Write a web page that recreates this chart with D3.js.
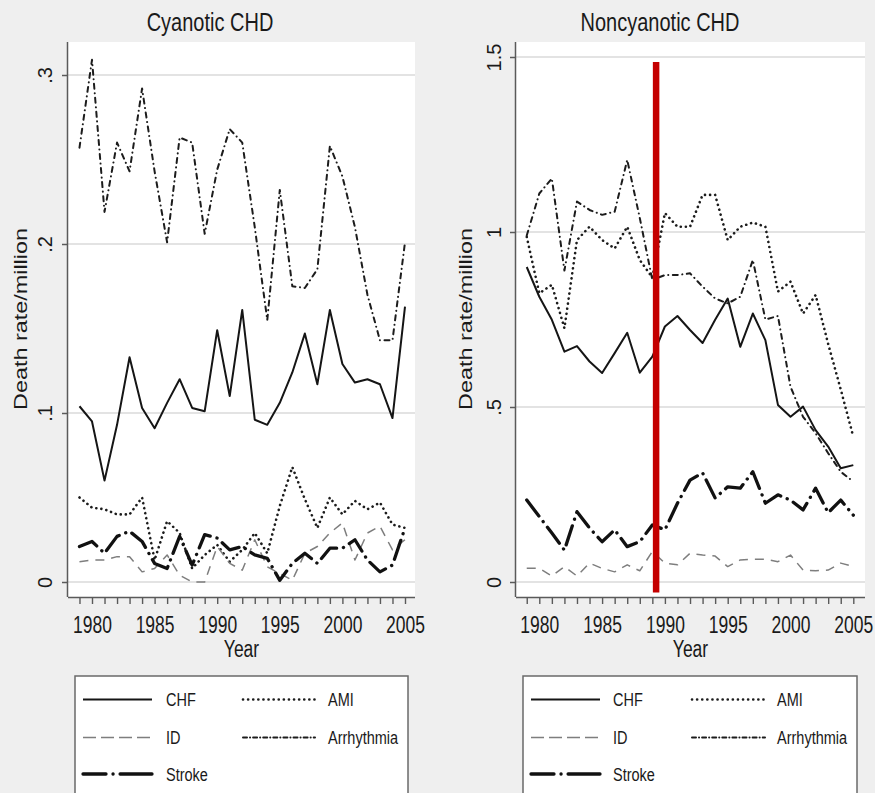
<!DOCTYPE html>
<html>
<head>
<meta charset="utf-8">
<script src="https://cdn.jsdelivr.net/npm/d3@7"></script>
<style>
  html, body { margin: 0; padding: 0; background: #efefef; }
  svg { display: block; }
  text { font-family: "Liberation Sans", Arial, sans-serif; fill: #1a1a1a; }
</style>
</head>
<body>
<svg id="chart" width="875" height="793"></svg>
<script>
// Years on the x axis
const years = [1979, 1980, 1981, 1982, 1983, 1984, 1985, 1986, 1987, 1988, 1989, 1990, 1991,
  1992, 1993, 1994, 1995, 1996, 1997, 1998, 1999, 2000, 2001, 2002, 2003, 2004, 2005];

// Cyanotic CHD death rates per million, by cause
const cyanCHF = [0.104, 0.095, 0.060, 0.093, 0.133, 0.103, 0.091, 0.106, 0.120, 0.103, 0.101, 0.149, 0.110,
  0.161, 0.096, 0.093, 0.106, 0.124, 0.147, 0.117, 0.161, 0.129, 0.118, 0.120, 0.117, 0.097, 0.163];
const cyanAMI = [0.050, 0.044, 0.043, 0.040, 0.040, 0.050, 0.013, 0.036, 0.029, 0.008, 0.016, 0.022, 0.012,
  0.019, 0.029, 0.017, 0.045, 0.068, 0.049, 0.032, 0.050, 0.040, 0.048, 0.043, 0.047, 0.034, 0.032];
const cyanID = [0.012, 0.013, 0.013, 0.015, 0.015, 0.006, 0.008, 0.016, 0.004, 0.000, 0.000, 0.021, 0.011,
  0.007, 0.025, 0.009, 0.005, 0.001, 0.017, 0.021, 0.029, 0.035, 0.013, 0.029, 0.033, 0.019, 0.025];
const cyanArrhythmia = [0.257, 0.309, 0.219, 0.260, 0.243, 0.292, 0.243, 0.201, 0.263, 0.260, 0.206, 0.244, 0.268,
  0.260, 0.210, 0.155, 0.232, 0.175, 0.174, 0.185, 0.258, 0.240, 0.210, 0.170, 0.143, 0.143, 0.201];
const cyanStroke = [0.021, 0.024, 0.017, 0.027, 0.030, 0.024, 0.011, 0.008, 0.027, 0.010, 0.028, 0.026, 0.019,
  0.021, 0.016, 0.014, 0.001, 0.011, 0.017, 0.011, 0.020, 0.020, 0.025, 0.013, 0.006, 0.010, 0.032];

// Noncyanotic CHD death rates per million, by cause
const nonCHF = [0.900, 0.815, 0.749, 0.658, 0.674, 0.630, 0.597, 0.654, 0.712, 0.598, 0.644, 0.730, 0.760,
  0.720, 0.683, 0.749, 0.810, 0.672, 0.767, 0.691, 0.506, 0.472, 0.501, 0.434, 0.387, 0.325, 0.334];
const nonAMI = [0.986, 0.825, 0.849, 0.725, 0.977, 1.015, 0.977, 0.953, 1.015, 0.920, 0.870, 1.054, 1.015,
  1.015, 1.106, 1.106, 0.977, 1.015, 1.027, 1.015, 0.830, 0.858, 0.767, 0.820, 0.680, 0.550, 0.415];
const nonID = [0.039, 0.039, 0.017, 0.044, 0.017, 0.054, 0.039, 0.029, 0.049, 0.032, 0.087, 0.054, 0.049,
  0.082, 0.077, 0.074, 0.044, 0.063, 0.065, 0.065, 0.058, 0.077, 0.034, 0.032, 0.034, 0.054, 0.044];
const nonArrhythmia = [0.990, 1.110, 1.153, 0.890, 1.087, 1.063, 1.049, 1.058, 1.206, 1.040, 0.863, 0.877, 0.877,
  0.882, 0.844, 0.810, 0.796, 0.815, 0.920, 0.750, 0.760, 0.558, 0.472, 0.425, 0.368, 0.315, 0.287];
const nonStroke = [0.234, 0.187, 0.140, 0.091, 0.201, 0.154, 0.115, 0.149, 0.101, 0.115, 0.163, 0.149, 0.225,
  0.291, 0.312, 0.240, 0.272, 0.268, 0.315, 0.225, 0.249, 0.234, 0.206, 0.268, 0.198, 0.234, 0.191];

// Axis labels
const xTickYears = [1980, 1985, 1990, 1995, 2000, 2005];
const cyanYTicks = [0, 0.1, 0.2, 0.3];
const cyanYLabels = ["0", ".1", ".2", ".3"];
const nonYTicks = [0, 0.5, 1, 1.5];
const nonYLabels = ["0", ".5", "1", "1.5"];

// Legend entries
const causes = ["CHF", "AMI", "ID", "Arrhythmia", "Stroke"];

// Marker year for the vertical reference line on the noncyanotic panel
const refYear = 1989.3;
const refSpan = [-0.03, 1.486];

// Line style per cause (dash = plot pattern, keyDash = legend sample pattern)
const styles = {
  CHF:        { color: "#151515", width: 2.0, dash: null, keyDash: null, cap: "butt" },
  AMI:        { color: "#1c1c1c", width: 2.6, dash: "0.1 5", keyDash: "0.1 5", cap: "round" },
  ID:         { color: "#7e7e7e", width: 1.5, dash: "9 7", keyDash: "13 5", cap: "butt" },
  Arrhythmia: { color: "#1c1c1c", width: 2.0, dash: "5 4.5 0.1 4.5", keyDash: "4 3 0.1 3", cap: "round" },
  Stroke:     { color: "#111111", width: 3.3, dash: "20 7 0.1 7", keyDash: "23 7 0.1 7 40", cap: "round" }
};

const svg = d3.select("#chart");

function drawPanel(cfg) {
  const g = svg.append("g");
  const x = d3.scaleLinear().domain([1980, 2005]).range(cfg.xRange);
  const y = d3.scaleLinear().domain([0, cfg.yTop]).range(cfg.yRange);

  // plot region
  g.append("rect")
    .attr("x", cfg.left).attr("y", cfg.top)
    .attr("width", cfg.right - cfg.left).attr("height", cfg.bottom - cfg.top)
    .attr("fill", "#ffffff");

  // horizontal grid
  g.selectAll("line.grid").data(cfg.yTicks).enter().append("line")
    .attr("class", "grid")
    .attr("x1", cfg.left).attr("x2", cfg.right)
    .attr("y1", d => y(d)).attr("y2", d => y(d))
    .attr("stroke", "#e3e3e3").attr("stroke-width", 2);

  // y axis
  const yAxis = d3.axisLeft(y).tickValues(cfg.yTicks).tickSize(6).tickPadding(0)
    .tickFormat((d, i) => cfg.yLabels[i]);
  const ya = g.append("g").attr("transform", `translate(${cfg.left},0)`).call(yAxis);
  ya.select(".domain").attr("d", `M-0.5,${cfg.top}V${cfg.bottom}`)
    .attr("stroke", "#5a5a5a").attr("stroke-width", 1.5);
  ya.selectAll(".tick line").attr("stroke", "#5a5a5a").attr("stroke-width", 1.5);
  ya.selectAll(".tick text")
    .attr("x", null).attr("dy", null)
    .attr("text-anchor", "middle")
    .attr("dominant-baseline", "central")
    .attr("transform", `translate(${cfg.yLabelOffset},0) rotate(-90)`)
    .style("font-size", "20px").style("font-family", "Liberation Sans, Arial, sans-serif")
    .attr("fill", "#1a1a1a");

  // x axis with a tick every year
  const xAxis = d3.axisBottom(x).tickValues(years).tickSize(7).tickFormat(d => xTickYears.includes(d) ? d : "");
  const xa = g.append("g").attr("transform", `translate(0,${cfg.bottom})`).call(xAxis);
  xa.select(".domain").attr("d", `M${cfg.left},0.5H${cfg.right}`)
    .attr("stroke", "#5a5a5a").attr("stroke-width", 1.5);
  xa.selectAll(".tick line").attr("stroke", "#5a5a5a").attr("stroke-width", 1.4);
  xa.selectAll(".tick text")
    .attr("y", null).attr("dy", null)
    .attr("dominant-baseline", "central")
    .attr("transform", "translate(0,28) scale(1,1.33)")
    .style("font-size", "17.5px").style("font-family", "Liberation Sans, Arial, sans-serif")
    .attr("fill", "#1a1a1a");

  // axis titles
  g.append("text")
    .attr("text-anchor", "middle").attr("dominant-baseline", "central")
    .attr("transform", `translate(${(cfg.left + cfg.right) / 2},648) scale(1,1.35)`)
    .style("font-size", "17.5px").text("Year");
  g.append("text")
    .attr("text-anchor", "middle").attr("dominant-baseline", "central")
    .attr("transform", `translate(${cfg.yTitleX},319) rotate(-90) scale(1.3,1)`)
    .style("font-size", "18px").text("Death rate/million");

  // panel title
  g.append("text")
    .attr("text-anchor", "middle").attr("dominant-baseline", "central")
    .attr("transform", `translate(${cfg.titleX},22) scale(1,1.3)`)
    .style("font-size", "20px").text(cfg.title);

  // series
  const line = d3.line().x((d, i) => x(years[i])).y(d => y(d));
  causes.forEach(c => {
    const s = styles[c];
    g.append("path")
      .datum(cfg.series[c])
      .attr("d", line)
      .attr("fill", "none")
      .attr("stroke", s.color)
      .attr("stroke-width", s.width)
      .attr("stroke-dasharray", s.dash)
      .attr("stroke-linecap", s.cap)
      .attr("stroke-linejoin", "round");
  });

  if (cfg.refLine) {
    g.append("line")
      .attr("x1", x(refYear)).attr("x2", x(refYear))
      .attr("y1", y(refSpan[1])).attr("y2", y(refSpan[0]))
      .attr("stroke", "#c40000").attr("stroke-width", 6.5);
  }

  // legend
  const lg = g.append("g");
  lg.append("rect")
    .attr("x", cfg.legend.x).attr("y", 676)
    .attr("width", cfg.legend.w).attr("height", 140)
    .attr("fill", "#ffffff").attr("stroke", "#6a6a6a").attr("stroke-width", 1.5);
  const slots = [
    { c: "CHF", col: 0, row: 0 }, { c: "AMI", col: 1, row: 0 },
    { c: "ID", col: 0, row: 1 }, { c: "Arrhythmia", col: 1, row: 1 },
    { c: "Stroke", col: 0, row: 2 }
  ];
  const rowY = [699.5, 737.5, 774];
  slots.forEach(sl => {
    const s = styles[sl.c];
    const c0 = cfg.legend.cols[sl.col];
    lg.append("line")
      .attr("x1", c0.x1).attr("x2", c0.x2)
      .attr("y1", rowY[sl.row]).attr("y2", rowY[sl.row])
      .attr("stroke", s.color).attr("stroke-width", s.width)
      .attr("stroke-dasharray", s.keyDash)
      .attr("stroke-linecap", s.cap);
    lg.append("text")
      .attr("dominant-baseline", "central")
      .attr("transform", `translate(${c0.tx},${rowY[sl.row]}) scale(1,1.25)`)
      .style("font-size", "14.5px").text(sl.c);
  });
}

drawPanel({
  title: "Cyanotic CHD", titleX: 210,
  left: 68, right: 415, top: 42, bottom: 597,
  xRange: [92, 405], yRange: [582, 75], yTop: 0.3,
  yTicks: cyanYTicks, yLabels: cyanYLabels, yLabelOffset: -23, yTitleX: 21,
  series: { CHF: cyanCHF, AMI: cyanAMI, ID: cyanID, Arrhythmia: cyanArrhythmia, Stroke: cyanStroke },
  refLine: false,
  legend: { x: 75, w: 333, cols: [{ x1: 83, x2: 152, tx: 166 }, { x1: 243, x2: 315, tx: 328 }] }
});

drawPanel({
  title: "Noncyanotic CHD", titleX: 660,
  left: 516, right: 865, top: 42, bottom: 597,
  xRange: [539.3, 853.3], yRange: [582, 57], yTop: 1.5,
  yTicks: nonYTicks, yLabels: nonYLabels, yLabelOffset: -22, yTitleX: 466,
  series: { CHF: nonCHF, AMI: nonAMI, ID: nonID, Arrhythmia: nonArrhythmia, Stroke: nonStroke },
  refLine: true,
  legend: { x: 523, w: 334, cols: [{ x1: 531, x2: 600, tx: 613 }, { x1: 692, x2: 765, tx: 777 }] }
});
</script>
</body>
</html>
